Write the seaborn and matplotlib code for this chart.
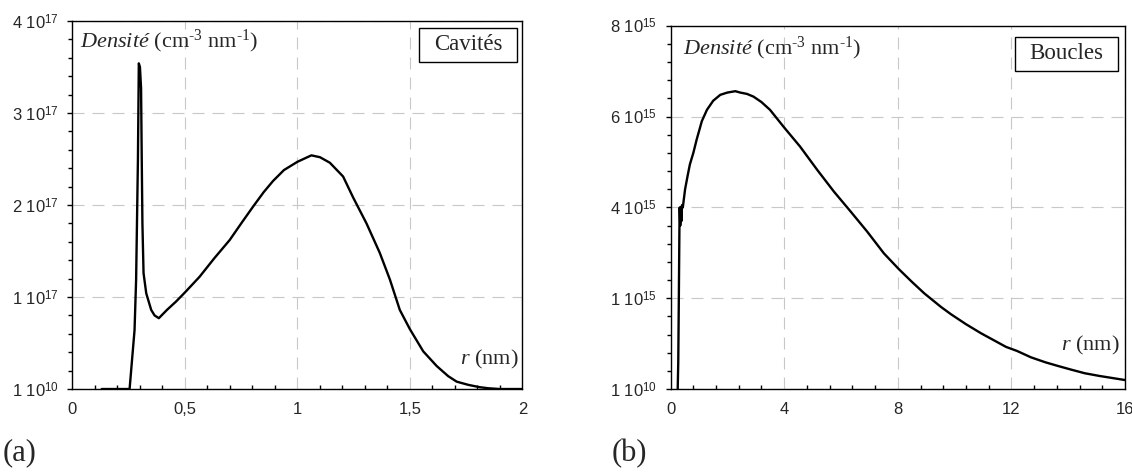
import numpy as np
import pandas as pd
import matplotlib
matplotlib.use("Agg")
import matplotlib.pyplot as plt
from matplotlib.ticker import AutoMinorLocator
from matplotlib.patches import Rectangle
import seaborn as sns

# --- Size distribution of cavities (radius in nm, density in cm^-3 nm^-1) ---
cav_r = [0.13, 0.254, 0.266, 0.276, 0.283, 0.291, 0.295, 0.300, 0.305, 0.308,
         0.311, 0.316, 0.328, 0.350, 0.365, 0.384, 0.42, 0.46, 0.50, 0.565,
         0.63, 0.699, 0.75, 0.802, 0.85, 0.891, 0.94, 1.00, 1.062, 1.10,
         1.144, 1.203, 1.248, 1.307, 1.366, 1.411, 1.455, 1.50, 1.559, 1.619,
         1.67, 1.708, 1.76, 1.81, 1.85, 1.90, 2.00]
cav_density = [1e-7, 1e-7, 0.35, 0.64, 1.19, 2.49, 3.54, 3.50, 3.27, 2.50,
               1.80, 1.26, 1.04, 0.86, 0.80, 0.77, 0.86, 0.95, 1.05, 1.22,
               1.42, 1.62, 1.80, 1.98, 2.14, 2.26, 2.38, 2.47, 2.54, 2.52,
               2.46, 2.31, 2.08, 1.80, 1.48, 1.19, 0.86, 0.65, 0.41, 0.25,
               0.14, 0.08, 0.045, 0.02, 0.008, 1e-7, 1e-7]  # x 1e17
cav_scale = 1e17

# --- Size distribution of loops ---
loop_r = [0.25, 0.27, 0.29, 0.31, 0.32, 0.34, 0.36, 0.38, 0.40, 0.43,
          0.51, 0.60, 0.68, 0.80, 0.92, 1.10, 1.28, 1.50, 1.75, 2.00,
          2.28, 2.45, 2.69, 2.92, 3.20, 3.50, 4.00, 4.56, 5.16, 5.75,
          6.34, 6.92, 7.51, 8.04, 8.50, 8.93, 9.52, 9.87, 10.4, 10.93,
          11.4, 11.81, 12.2, 12.69, 13.2, 13.64, 14.1, 14.58, 15.1, 15.6, 16.0]
loop_density = [5e-6, 0.6, 2.0, 3.5, 4.0, 3.6, 4.0, 3.7, 4.05, 4.0,
                4.4, 4.7, 4.95, 5.2, 5.5, 5.9, 6.15, 6.35, 6.48, 6.53,
                6.56, 6.53, 6.50, 6.44, 6.32, 6.15, 5.76, 5.34, 4.83, 4.35,
                3.91, 3.47, 2.99, 2.64, 2.36, 2.11, 1.81, 1.65, 1.43, 1.23,
                1.07, 0.93, 0.84, 0.70, 0.59, 0.51, 0.43, 0.35, 0.29, 0.24, 0.20]  # x 1e15
loop_scale = 1e15

# Tick labels
cav_xticks = [0, 0.5, 1, 1.5, 2]
cav_xlabels = ["0", "0,5", "1", "1,5", "2"]
cav_yticks = [0, 1, 2, 3, 4]
cav_ylabels = [("1", "10"), ("1", "17"), ("2", "17"), ("3", "17"), ("4", "17")]

loop_xticks = [0, 4, 8, 12, 16]
loop_xlabels = ["0", "4", "8", "12", "16"]
loop_yticks = [0, 2, 4, 6, 8]
loop_ylabels = [("1", "10"), ("1", "15"), ("4", "15"), ("6", "15"), ("8", "15")]

sns.set_style("white")
plt.rcParams["font.family"] = ["Liberation Sans", "DejaVu Sans"]
plt.rcParams["mathtext.fontset"] = "custom"
plt.rcParams["mathtext.rm"] = "Liberation Serif"
plt.rcParams["mathtext.it"] = "Liberation Serif:italic"
plt.rcParams["mathtext.sf"] = "Liberation Sans"

fig = plt.figure(figsize=(11.32, 4.75), dpi=100)
ax_a = fig.add_axes([0.064, 0.181, 0.3975, 0.7747])
ax_b = fig.add_axes([0.5924, 0.1808, 0.4014, 0.7649])

SERIF = ["Liberation Serif", "DejaVu Serif"]


def style_axes(ax, xticks, xlabels, yticks, ylabels, yscale, xlim):
    ax.set_xlim(*xlim)
    ax.set_ylim(0, yticks[-1] * yscale)
    ax.set_xticks(xticks)
    ax.set_xticklabels(xlabels)
    ax.set_yticks([v * yscale for v in yticks])
    ax.set_yticklabels([r"%s 10$^{\mathsf{%s}}$" % (m, e) for m, e in ylabels])
    ax.xaxis.set_minor_locator(AutoMinorLocator(5))
    ax.yaxis.set_minor_locator(AutoMinorLocator(5))
    ax.tick_params(axis="x", which="major", direction="inout", length=7,
                   width=1.0, color="black", pad=6, labelsize=12)
    ax.tick_params(axis="x", which="minor", direction="in", length=3,
                   width=1.0, color="black", bottom=True)
    ax.tick_params(axis="y", which="major", direction="out", length=3.5,
                   width=1.0, color="black", pad=6, labelsize=12, left=True)
    ax.tick_params(axis="y", which="minor", direction="out", length=3,
                   width=1.0, color="black", left=True)
    ax.grid(True, which="major", color="#c8c8c8",
            linestyle=(0, (10.8, 7.2)), linewidth=0.8)
    ax.set_axisbelow(True)
    for sp in ax.spines.values():
        sp.set_visible(True)
        sp.set_color("black")
        sp.set_linewidth(1.0)
    ax.set_xlabel("")
    ax.set_ylabel("")


def legend_box(ax, x0, y0, x1, y1, label):
    ax.add_patch(Rectangle((x0, y0), x1 - x0, y1 - y0, transform=ax.transAxes,
                           facecolor="white", edgecolor="black", lw=1.0,
                           zorder=5, clip_on=False))
    ax.text((x0 + x1) / 2, (y0 + y1) / 2, label, transform=ax.transAxes,
            ha="center", va="center", fontsize=16.5, family=SERIF, zorder=6)


df_a = pd.DataFrame({"r": cav_r, "density": np.array(cav_density) * cav_scale})
df_b = pd.DataFrame({"r": loop_r, "density": np.array(loop_density) * loop_scale})

sns.lineplot(data=df_a, x="r", y="density", ax=ax_a, color="black",
             linewidth=1.7, sort=False, estimator=None)
sns.lineplot(data=df_b, x="r", y="density", ax=ax_b, color="black",
             linewidth=1.7, sort=False, estimator=None)

style_axes(ax_a, cav_xticks, cav_xlabels, cav_yticks, cav_ylabels, cav_scale, (0, 2))
style_axes(ax_b, loop_xticks, loop_xlabels, loop_yticks, loop_ylabels, loop_scale, (0, 16))

density_label = "$\\mathit{Densité}$ (cm$^{\u20103}$ nm$^{\u20101}$)"
ax_a.text(0.017, 0.946, density_label, transform=ax_a.transAxes,
          ha="left", va="center", fontsize=16, family=SERIF)
ax_b.text(0.027, 0.938, density_label, transform=ax_b.transAxes,
          ha="left", va="center", fontsize=16, family=SERIF)

ax_a.text(0.992, 0.079, r"$\mathit{r}$ (nm)", transform=ax_a.transAxes,
          ha="right", va="center", fontsize=16, family=SERIF)
ax_b.text(0.989, 0.121, r"$\mathit{r}$ (nm)", transform=ax_b.transAxes,
          ha="right", va="center", fontsize=16, family=SERIF)

legend_box(ax_a, 0.770, 0.889, 0.988, 0.981, "Cavités")
legend_box(ax_b, 0.758, 0.876, 0.985, 0.969, "Boucles")

fig.text(0.002, 0.046, "(a)", ha="left", va="center", fontsize=22, family=SERIF)
fig.text(0.5406, 0.046, "(b)", ha="left", va="center", fontsize=22, family=SERIF)

fig.savefig("out.png", dpi=100)
